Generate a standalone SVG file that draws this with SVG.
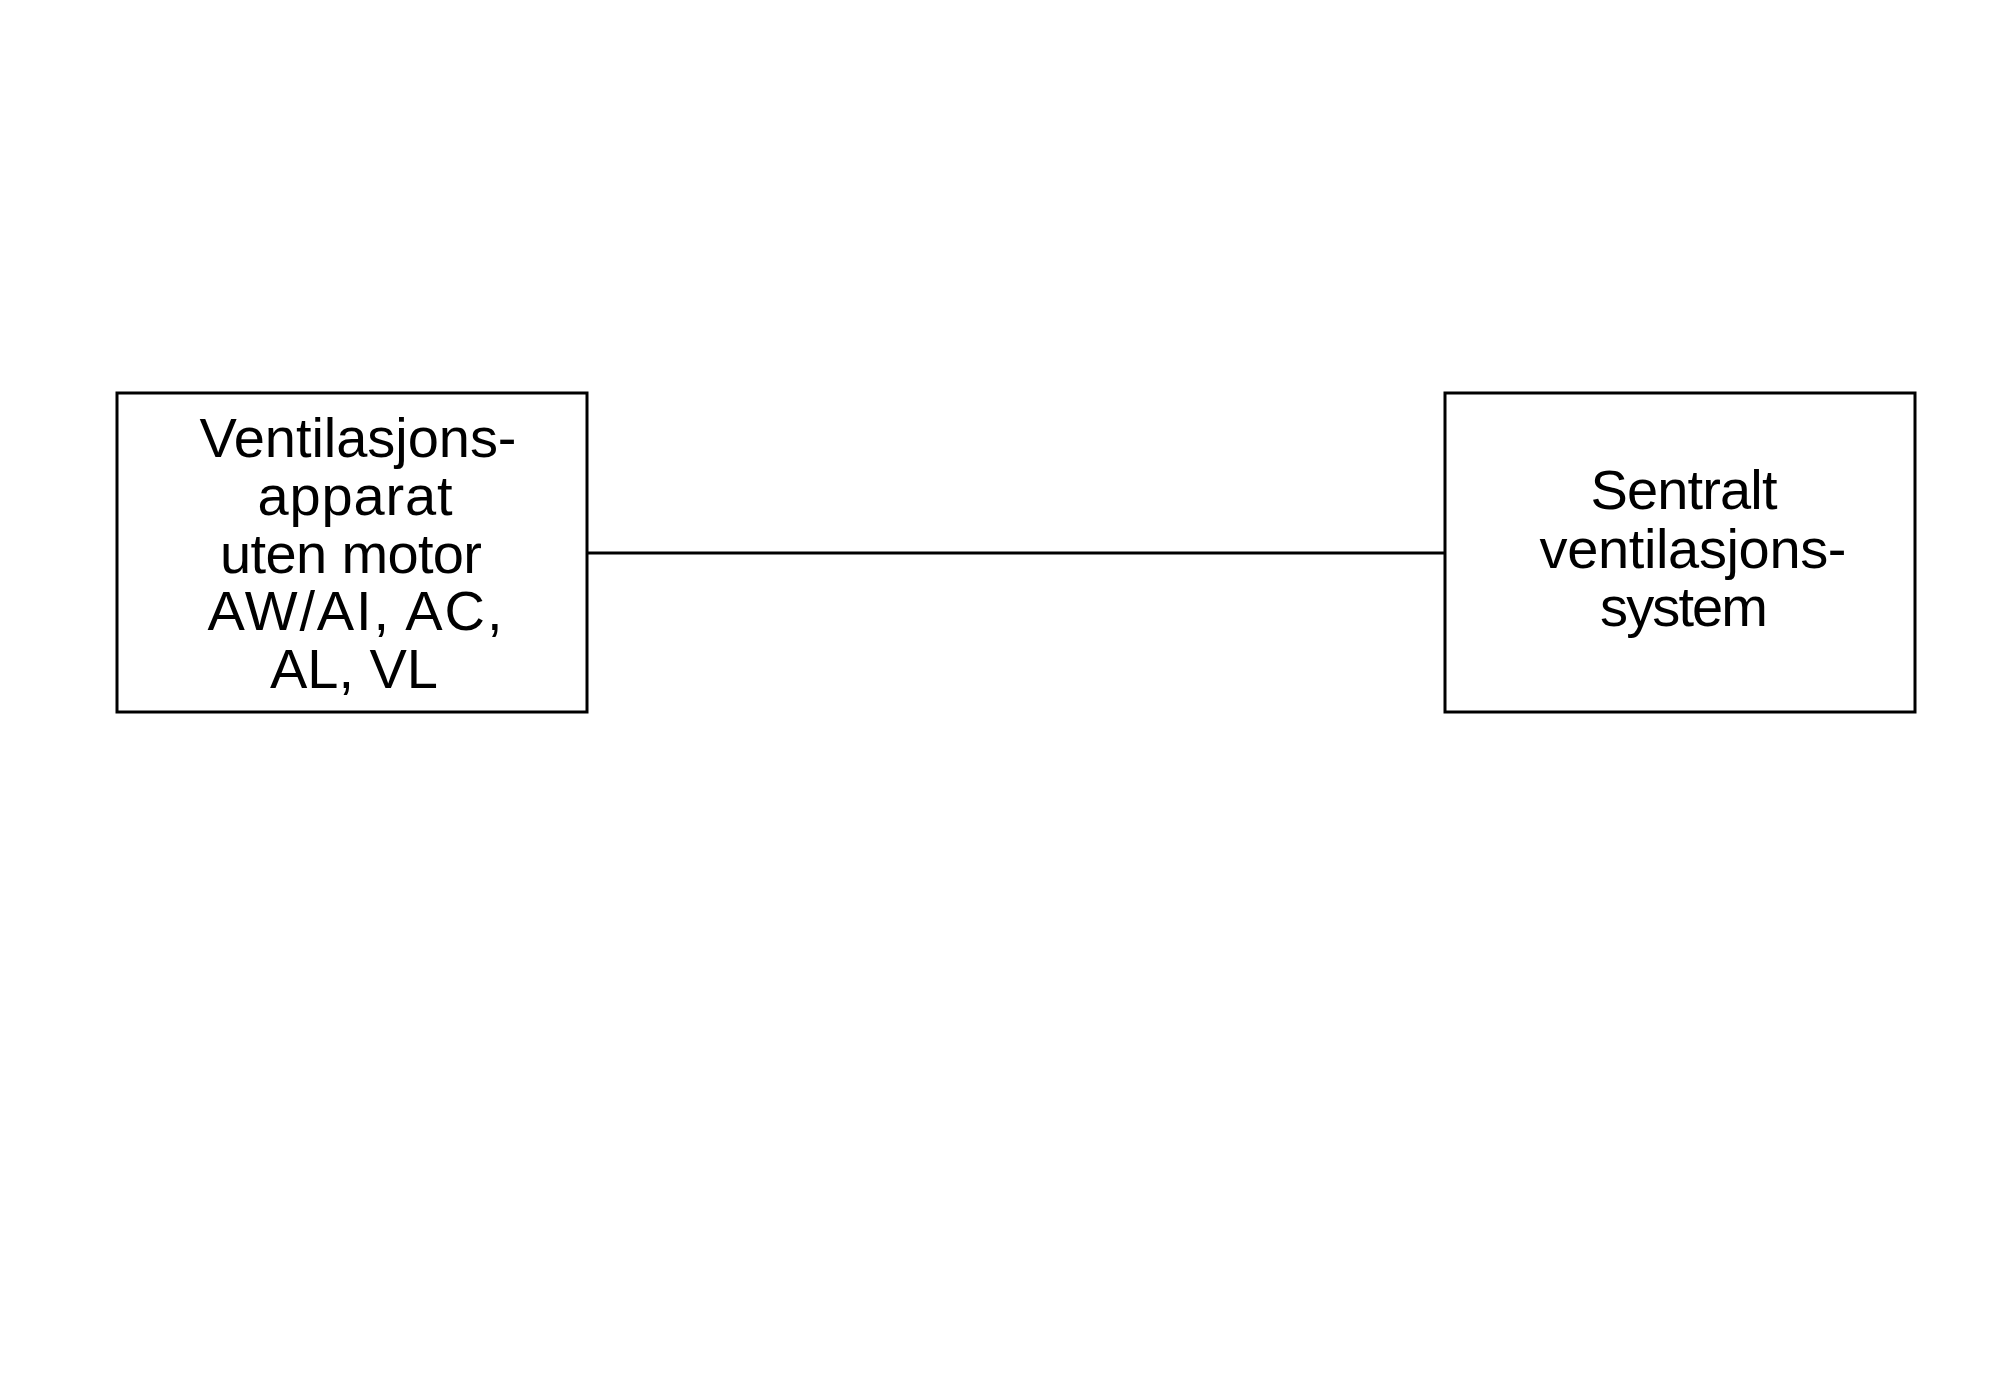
<svg xmlns="http://www.w3.org/2000/svg" width="2000" height="1389" viewBox="0 0 2000 1389">
<style>
.box{fill:#fff;stroke:#000;stroke-width:3}
.lbl{font-family:"Liberation Sans",Arial,sans-serif;font-size:56px;fill:#000;text-anchor:middle}
.conn{stroke:#000;stroke-width:3;fill:none}
</style>
<rect width="2000" height="1389" fill="#fff"/>
<g id="connectors">
<line class="conn" x1="587" y1="553" x2="1445" y2="553"/>
</g>
<g id="node-apparat">
<rect class="box" x="117" y="393" width="470" height="319"/>
<text class="lbl" x="358" y="457" textLength="317">Ventilasjons-</text>
<text class="lbl" x="355" y="515" textLength="195">apparat</text>
<text class="lbl" x="351" y="573" textLength="262">uten motor</text>
<text class="lbl" x="355" y="630" textLength="295">AW/AI, AC,</text>
<text class="lbl" x="354" y="688" textLength="168">AL, VL</text>
</g>
<g id="node-sentralt">
<rect class="box" x="1445" y="393" width="470" height="319"/>
<text class="lbl" x="1684" y="509" textLength="187">Sentralt</text>
<text class="lbl" x="1693" y="568" textLength="307">ventilasjons-</text>
<text class="lbl" x="1684" y="626" textLength="168">system</text>
</g>
</svg>
